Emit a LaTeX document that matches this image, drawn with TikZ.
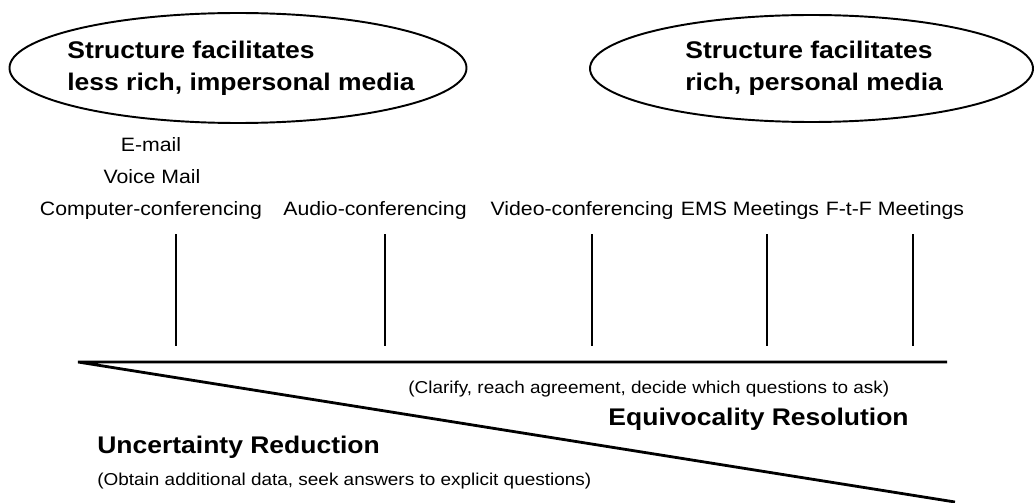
\documentclass[tikz,border=0pt]{standalone}
\usepackage{fontspec}
\setmainfont[FakeStretch=1.1]{Liberation Sans}
\usetikzlibrary{positioning,shapes,calc}
\usetikzlibrary{shapes.geometric}
\tikzstyle{oval}=[draw,ellipse,line width=1.1pt,inner sep=0pt]
\tikzstyle{heading}=[anchor=west,inner sep=0pt,align=left,font=\bfseries\fontsize{13.7}{18.2}\selectfont]
\tikzstyle{medium}=[anchor=base,inner sep=0pt,font=\fontsize{11}{13}\selectfont]
\tikzstyle{aside}=[inner sep=0pt,font=\fontsize{9.8}{12}\selectfont]
\tikzstyle{outcome}=[inner sep=0pt,font=\bfseries\fontsize{13.7}{16}\selectfont]

\begin{document}
\begin{tikzpicture}[tick/.style={line width=1.5pt},
    edge/.style={line width=1.6pt,line join=miter}
]
      \useasboundingbox (0,0) rectangle (20.68,10.04);

      \node [oval,minimum width=9.14cm,minimum height=2.2cm] (lean) at (4.76,8.68) {};
      \node [heading] (leantext) at (1.34,8.68) {Structure facilitates\\less rich, impersonal media};
      \node [oval,minimum width=8.86cm,minimum height=2.14cm] (rich) at (16.23,8.67) {};
      \node [heading] (richtext) at (13.7,8.68) {Structure facilitates\\rich, personal media};

      \node [medium] (email) at (3.02,7.0) {E-mail};
      \node [medium] (voicemail) at (3.04,6.36) {Voice Mail};
      \node [medium] (computer) at (3.02,5.74) {Computer-conferencing};
      \node [medium] (audio) at (7.50,5.74) {Audio-conferencing};
      \node [medium] (video) at (11.64,5.74) {Video-conferencing};
      \node [medium] (ems) at (15.00,5.74) {EMS Meetings};
      \node [medium] (ftf) at (17.90,5.74) {F-t-F Meetings};

      \foreach \x in {3.52,7.70,11.84,15.34,18.26}
        \draw [tick] (\x,5.36) -- (\x,3.12);

      \coordinate (apex) at (1.56,2.8);
      \coordinate (richend) at (18.94,2.8);
      \coordinate (leanend) at (19.1,0);
      \draw [edge] (richend) -- (apex) -- (leanend);

      \node [aside,anchor=base west] (clarify) at (8.16,2.18) {(Clarify, reach agreement, decide which questions to ask)};
      \node [outcome,anchor=base east] (equivocality) at (18.18,1.54) {Equivocality Resolution};
      \node [outcome,anchor=base west] (uncertainty) at (1.94,0.98) {Uncertainty Reduction};
      \node [aside,anchor=base west] (obtain) at (1.94,0.34) {(Obtain additional data, seek answers to explicit questions)};

    \end{tikzpicture}
\end{document}
